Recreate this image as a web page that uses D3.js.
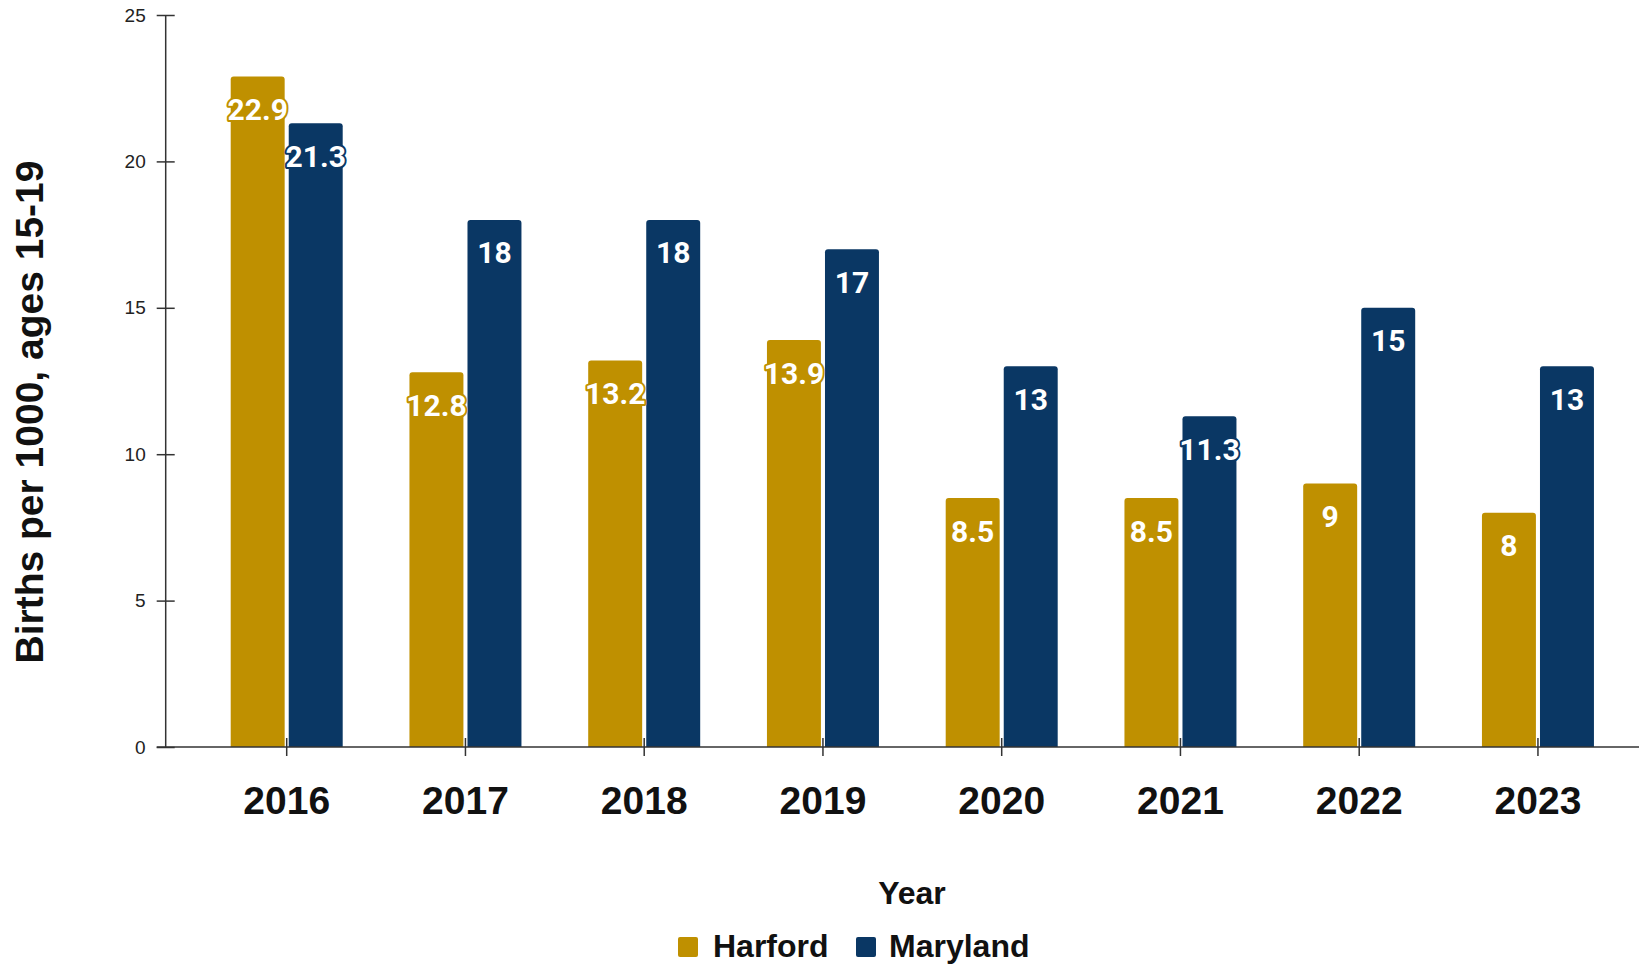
<!DOCTYPE html>
<html>
<head>
<meta charset="utf-8">
<script src="https://cdn.jsdelivr.net/npm/d3@7"></script>
<style>
  html, body { margin: 0; padding: 0; background: #fff; }
  svg { display: block; }
</style>
</head>
<body>
<svg id="chart" width="1639" height="964"></svg>
<script>
const years = ["2016", "2017", "2018", "2019", "2020", "2021", "2022", "2023"];
const seriesNames = ["Harford", "Maryland"];
const harford = [22.9, 12.8, 13.2, 13.9, 8.5, 8.5, 9, 8];
const maryland = [21.3, 18, 18, 17, 13, 11.3, 15, 13];
const yTicks = [0, 5, 10, 15, 20, 25];
const colors = ["#BF9000", "#0A3764"];

const svg = d3.select("#chart");
const W = 1639, H = 964;
const axisX = 165.7, y0 = 747, yTop = 15;

const y = d3.scaleLinear().domain([0, 25]).range([y0, yTop]);
const step = 178.75;
const x = d3.scaleBand().domain(years).range([286.7 - step / 2, 286.7 - step / 2 + step * years.length]).padding(0);
const xs = d3.scaleBand().domain(seriesNames).range([-56, 56]).paddingInner(0.07);

const data = years.map((yr, i) => ({ year: yr, values: [harford[i], maryland[i]] }));

// bars
const g = svg.append("g");
data.forEach(d => {
  const cx = x(d.year) + x.bandwidth() / 2;
  d.values.forEach((v, j) => {
    const bx = cx + xs(seriesNames[j]);
    const bw = xs.bandwidth();
    const top = y(v), bot = y(0), r = 3;
    const path = `M${bx},${bot} L${bx},${top + r} Q${bx},${top} ${bx + r},${top} L${bx + bw - r},${top} Q${bx + bw},${top} ${bx + bw},${top + r} L${bx + bw},${bot} Z`;
    g.append("path").attr("d", path).attr("fill", colors[j]);
  });
});

// y axis
const yAxis = svg.append("g").attr("transform", `translate(${axisX},0)`)
  .call(d3.axisLeft(y).tickValues(yTicks).tickSize(9).tickPadding(11).tickFormat(d3.format("d")));
yAxis.select(".domain").remove();
yAxis.selectAll(".tick line").attr("x2", 9).attr("x1", -9).attr("stroke", "#333").attr("stroke-width", 1.5);
yAxis.selectAll(".tick text").attr("font-family", "Liberation Sans, Arial, sans-serif").attr("font-size", 19).attr("fill", "#222");
svg.append("line").attr("x1", axisX).attr("x2", axisX).attr("y1", yTop).attr("y2", y0).attr("stroke", "#333").attr("stroke-width", 1.5);

// x axis
const xAxis = svg.append("g").attr("transform", `translate(0,${y0})`)
  .call(d3.axisBottom(x).tickSize(9).tickPadding(30));
xAxis.select(".domain").remove();
xAxis.selectAll(".tick line").attr("y1", -9).attr("y2", 9).attr("stroke", "#333").attr("stroke-width", 1.5);
xAxis.selectAll(".tick text").attr("font-family", "Liberation Sans, Arial, sans-serif").attr("font-weight", "bold").attr("font-size", 39).attr("fill", "#111");
svg.append("line").attr("x1", axisX - 9).attr("x2", W).attr("y1", y0).attr("y2", y0).attr("stroke", "#333").attr("stroke-width", 1.5);

// value labels
const lg = svg.append("g");
data.forEach(d => {
  const cx = x(d.year) + x.bandwidth() / 2;
  d.values.forEach((v, j) => {
    const bx = cx + xs(seriesNames[j]) + xs.bandwidth() / 2;
    lg.append("text")
      .attr("x", bx).attr("y", y(v) + 33)
      .attr("text-anchor", "middle").attr("dominant-baseline", "central")
      .attr("font-family", "Roboto, sans-serif").attr("font-weight", "bold").attr("font-size", 30)
      .attr("fill", "#fff").attr("stroke", colors[j]).attr("stroke-width", 4)
      .attr("stroke-linejoin", "round").style("paint-order", "stroke")
      .text(v);
  });
});

// axis titles
svg.append("text").attr("x", 912).attr("y", 904).attr("text-anchor", "middle")
  .attr("font-family", "Liberation Sans, Arial, sans-serif").attr("font-weight", "bold").attr("font-size", 32).attr("fill", "#111")
  .text("Year");
svg.append("text").attr("transform", "translate(43,412) rotate(-90)").attr("text-anchor", "middle")
  .attr("font-family", "Liberation Sans, Arial, sans-serif").attr("font-weight", "bold").attr("font-size", 39).attr("fill", "#111")
  .text("Births per 1000, ages 15-19");

// legend
const legend = svg.append("g");
const legendItems = [{ name: seriesNames[0], sx: 678, tx: 713 }, { name: seriesNames[1], sx: 856, tx: 889 }];
legendItems.forEach((it, j) => {
  legend.append("rect").attr("x", it.sx).attr("y", 937).attr("width", 20).attr("height", 20).attr("rx", 2).attr("fill", colors[j]);
  legend.append("text").attr("x", it.tx).attr("y", 957)
    .attr("font-family", "Liberation Sans, Arial, sans-serif").attr("font-weight", "bold").attr("font-size", 32).attr("fill", "#111")
    .text(it.name);
});
</script>
</body>
</html>
